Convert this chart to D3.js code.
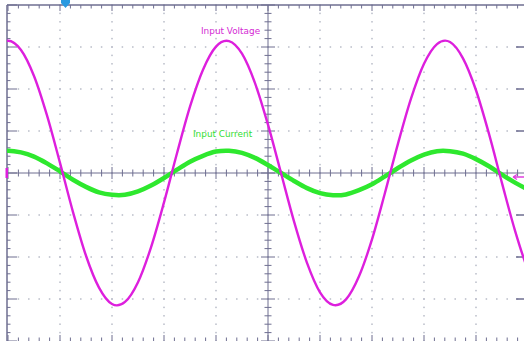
<!DOCTYPE html>
<html>
<head>
<meta charset="utf-8">
<script src="https://cdn.jsdelivr.net/npm/d3@7"></script>
<style>
  html, body { margin: 0; padding: 0; background: #fff; }
  svg { display: block; }
</style>
</head>
<body>
<svg id="scope" width="524" height="341"></svg>
<script>
// time base: 4 ms/div, 10 divisions; values in divisions
// one sample either side of the screen so the curve has no end kinks
var timeMs = d3.range(-1, 42);
var voltageDiv = [2.93, 3.15, 2.93, 2.31, 1.37, 0.24, -0.93, -1.97, -2.73, -3.12, -3.07,
                  -2.60, -1.77, -0.70, 0.47, 1.58, 2.46, 3.01, 3.14, 2.84, 2.14,
                  1.15, 0.00, -1.15, -2.14, -2.84, -3.14, -3.01, -2.46, -1.58, -0.47,
                  0.70, 1.77, 2.60, 3.07, 3.12, 2.73, 1.97, 0.93, -0.24, -1.37, -2.31, -2.93];
var currentDiv = [0.49, 0.53, 0.49, 0.39, 0.23, 0.04, -0.16, -0.33, -0.46, -0.52, -0.52,
                  -0.44, -0.30, -0.12, 0.08, 0.27, 0.41, 0.51, 0.53, 0.48, 0.36,
                  0.19, 0.00, -0.19, -0.36, -0.48, -0.53, -0.51, -0.41, -0.27, -0.08,
                  0.12, 0.30, 0.44, 0.52, 0.52, 0.46, 0.33, 0.16, -0.04, -0.23, -0.39, -0.49];
var xDivs = d3.range(0, 11);   // major vertical lines
var yDivs = d3.range(-4, 5);   // major horizontal lines

var svg = d3.select('#scope');
var x = d3.scaleLinear().domain([0, 40]).range([8, 528]);
var y = d3.scaleLinear().domain([-4, 4]).range([341, 5]);

var axisColor = '#6e6e90';
var dotColor = '#b8bcc8';

svg.append('clipPath').attr('id', 'screen')
    .append('rect').attr('x', 7).attr('y', 5).attr('width', 517).attr('height', 336);

// dotted grid
var grid = svg.append('g');
xDivs.forEach(function(d) {
    if (d == 0 || d == 5) return;
    var xx = x(d * 4);
    d3.range(-20, 21).forEach(function(k) {
        grid.append('rect').attr('x', xx - 0.75).attr('y', y(k / 5) - 0.75)
            .attr('width', 1.5).attr('height', 1.5).attr('fill', dotColor);
    });
});
yDivs.forEach(function(d) {
    if (d == 0 || Math.abs(d) == 4) return;
    var yy = y(d);
    d3.range(0, 51).forEach(function(k) {
        grid.append('rect').attr('x', x(k * 0.8) - 0.75).attr('y', yy - 0.75)
            .attr('width', 1.5).attr('height', 1.5).attr('fill', dotColor);
    });
});

// border and center axes with ticks
var ax = svg.append('g').attr('stroke', axisColor);
ax.append('line').attr('x1', 7).attr('x2', 524).attr('y1', 5).attr('y2', 5).attr('stroke-width', 1.5);
ax.append('line').attr('x1', 7).attr('x2', 7).attr('y1', 5).attr('y2', 341).attr('stroke-width', 1.5);
ax.append('line').attr('x1', 7).attr('x2', 524).attr('y1', y(0)).attr('y2', y(0)).attr('stroke-width', 1);
ax.append('line').attr('x1', x(20)).attr('x2', x(20)).attr('y1', 5).attr('y2', 341).attr('stroke-width', 1);

d3.range(0, 51).forEach(function(k) {
    var xx = x(k * 0.8);
    var major = k % 5 == 0;
    ax.append('line').attr('x1', xx).attr('x2', xx).attr('y1', 5).attr('y2', 5 + (major ? 6 : 3.5));
    ax.append('line').attr('x1', xx).attr('x2', xx).attr('y1', 341).attr('y2', 341 - (major ? 6 : 3.5));
    ax.append('line').attr('x1', xx).attr('x2', xx).attr('y1', y(0) - (major ? 6 : 3.5)).attr('y2', y(0) + (major ? 6 : 3.5));
});
d3.range(-20, 21).forEach(function(k) {
    var yy = y(k / 5);
    var major = k % 5 == 0;
    ax.append('line').attr('x1', 7).attr('x2', 7 + (major ? 10 : 3.5)).attr('y1', yy).attr('y2', yy);
    ax.append('line').attr('x1', x(20) - (major ? 7 : 3.5)).attr('x2', x(20) + (major ? 7 : 3.5)).attr('y1', yy).attr('y2', yy);
    if (major && k != 0 && Math.abs(k) != 20) {
        ax.append('line').attr('x1', 516).attr('x2', 524).attr('y1', yy).attr('y2', yy).attr('stroke-width', 1.5);
    }
});

// traces
var line = d3.line().curve(d3.curveCatmullRom.alpha(0))
    .x(function(d) { return x(d[0]); })
    .y(function(d) { return y(d[1]); });

var traces = svg.append('g').attr('clip-path', 'url(#screen)');
traces.append('path')
    .datum(d3.zip(timeMs, currentDiv))
    .attr('d', line)
    .attr('fill', 'none')
    .attr('stroke', '#2ee82e')
    .attr('stroke-width', 4.5);

traces.append('path')
    .datum(d3.zip(timeMs, voltageDiv))
    .attr('d', line)
    .attr('fill', 'none')
    .attr('stroke', '#dd1fdd')
    .attr('stroke-width', 2.4);

// labels
svg.append('text').attr('x', 201).attr('y', 34)
    .attr('font-family', 'DejaVu Sans, sans-serif').attr('font-size', 8.9)
    .attr('fill', '#d42ad4').text('Input Voltage');
svg.append('text').attr('x', 193).attr('y', 137)
    .attr('font-family', 'DejaVu Sans, sans-serif').attr('font-size', 8.9)
    .attr('fill', '#33dd33').text('Input Current');

// markers
svg.append('path').attr('d', 'M61,0 L70,0 L70,3 L65.5,8 L61,3 Z').attr('fill', '#2a9ae0');
svg.append('rect').attr('x', 5.5).attr('y', y(0) - 5).attr('width', 2.5).attr('height', 10).attr('fill', '#dd1fdd');
svg.append('path').attr('d', 'M513,177 L524,177 M513,177 L517,174.5 M513,177 L517,179.5')
    .attr('stroke', '#e040e0').attr('stroke-width', 1.3).attr('fill', 'none');
</script>
</body>
</html>
